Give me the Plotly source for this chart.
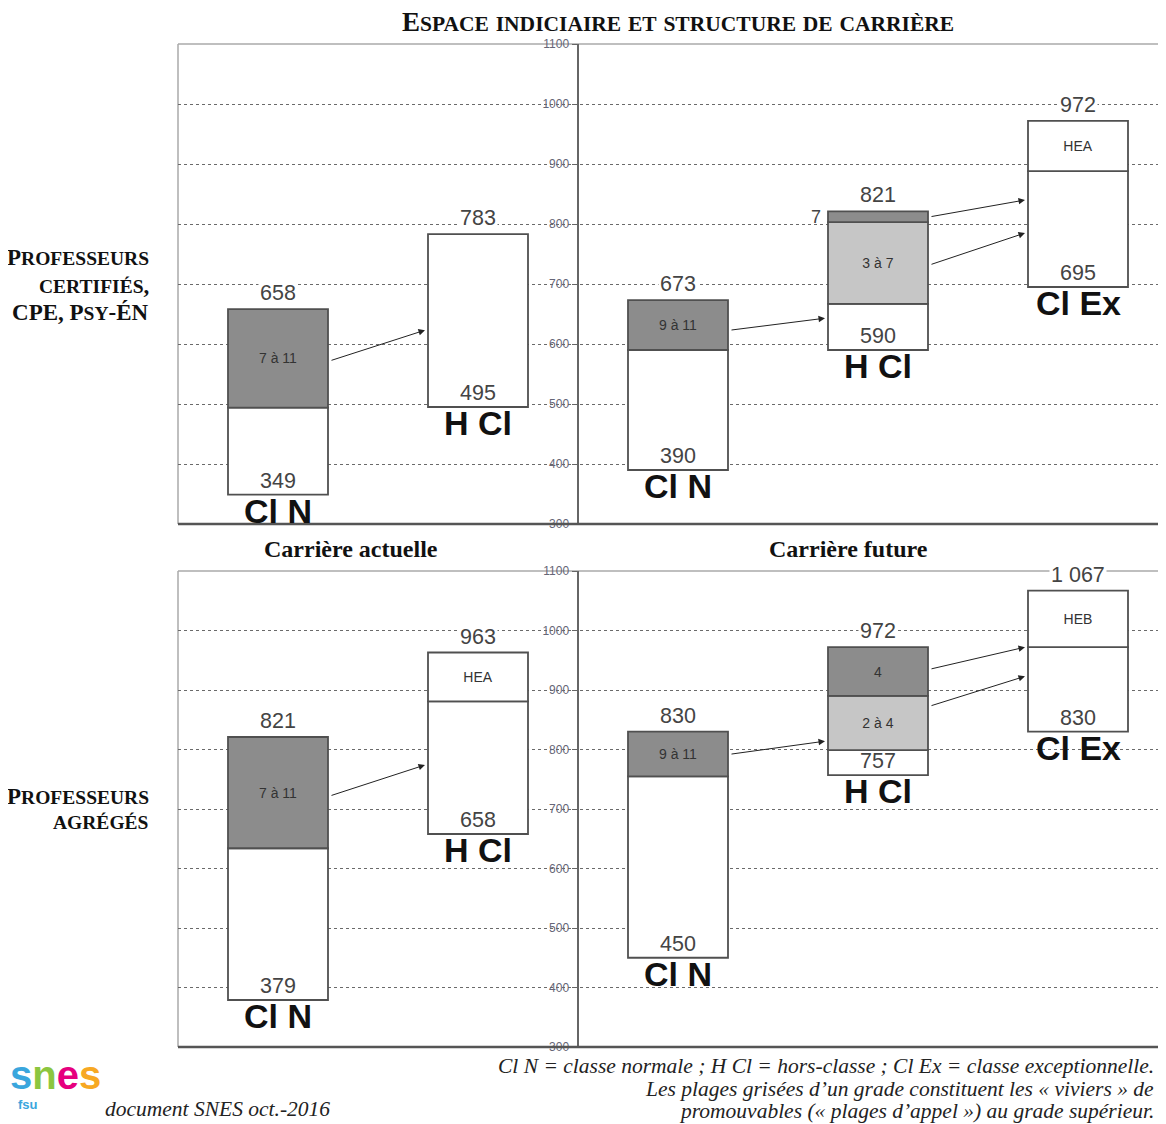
import plotly.graph_objects as go

# ---------------- data ----------------
grades = ["Cl N", "H Cl", "Cl N", "H Cl", "Cl Ex"]
slots = [0, 1, 2, 3, 4]

# Professeurs certifiés, CPE, Psy-ÉN
cert_min = [349, 495, 390, 590, 695]
cert_max = [658, 783, 673, 821, 972]
cert_seg_slot = [0, 0, 1, 2, 2, 3, 3, 3, 4, 4]
cert_seg_lo = [349, 494, 495, 390, 590, 590, 667, 803, 695, 888]
cert_seg_hi = [494, 658, 783, 590, 673, 667, 803, 821, 888, 972]
cert_seg_kind = ["blanc", "fonce", "blanc", "blanc", "fonce", "blanc", "clair", "fonce", "blanc", "blanc"]
cert_seg_text = ["", "7 à 11", "", "", "9 à 11", "", "3 à 7", "", "", "HEA"]
cert_note_slot, cert_note_val, cert_note_text = 3, 812, "7"
cert_arr_from = [(0, 572), (2, 623), (3, 812), (3, 732)]
cert_arr_to = [(1, 623), (3, 643), (4, 840), (4, 785)]

# Professeurs agrégés
agr_min = [379, 658, 450, 757, 830]
agr_max = [821, 963, 830, 972, 1067]
agr_seg_slot = [0, 0, 1, 1, 2, 2, 3, 3, 3, 4, 4]
agr_seg_lo = [379, 634, 658, 881, 450, 755, 757, 799, 890, 830, 972]
agr_seg_hi = [634, 821, 881, 963, 755, 830, 799, 890, 972, 972, 1067]
agr_seg_kind = ["blanc", "fonce", "blanc", "blanc", "blanc", "fonce", "blanc", "clair", "fonce", "blanc", "blanc"]
agr_seg_text = ["", "7 à 11", "", "HEA", "", "9 à 11", "", "2 à 4", "4", "", "HEB"]
agr_arr_from = [(0, 722), (2, 792), (3, 935), (3, 873)]
agr_arr_to = [(1, 774), (3, 814), (4, 972), (4, 923)]

y_ticks = [300, 400, 500, 600, 700, 800, 900, 1000, 1100]

# ---------------- style ----------------
FILL = {"blanc": "#ffffff", "fonce": "#8c8c8c", "clair": "#c6c6c6"}
SERIF = "Liberation Serif"
SANS = "Liberation Sans"
OFF = 8                      # page body margin
W, H = 1166 - OFF, 1124 - OFF


def px(x):
    return (x - OFF) / W


def py(y):
    return 1 - (y - OFF) / H


def sc(text, big, small):
    """small caps: capitals at size big, lower case letters as capitals at size small"""
    out = []
    for ch in text:
        if ch.islower():
            out.append(f"<span style='font-size:{small}px'>{ch.upper()}</span>")
        else:
            out.append(f"<span style='font-size:{big}px'>{ch}</span>")
    return "".join(out)


fig = go.Figure()


def fmt(v):
    return f"{v:,}".replace(",", " ")


def panel(suffix, seg_slot, seg_lo, seg_hi, seg_kind, seg_text, vmin, vmax, arr_from, arr_to):
    xa = "x" + suffix
    ya = "y" + suffix
    fig.add_trace(go.Bar(
        x=seg_slot,
        y=[h - l for l, h in zip(seg_lo, seg_hi)],
        base=seg_lo,
        width=0.5,
        marker=dict(color=[FILL[k] for k in seg_kind], line=dict(color="#505050", width=1.8)),
        text=seg_text,
        textposition="inside",
        insidetextanchor="middle",
        textangle=0,
        textfont=dict(family=SANS, size=14, color="#333333"),
        cliponaxis=False,
        xaxis=xa, yaxis=ya,
        showlegend=False,
        hoverinfo="skip",
    ))
    for s, lo, hi, g in zip(slots, vmin, vmax, grades):
        fig.add_annotation(x=s, y=hi, xref=xa, yref=ya, text=fmt(hi), showarrow=False,
                           xanchor="center", yanchor="bottom", yshift=2, bgcolor="white",
                           borderpad=1, font=dict(family=SANS, size=21.5, color="#444444"))
        fig.add_annotation(x=s, y=lo, xref=xa, yref=ya, text=fmt(lo), showarrow=False,
                           xanchor="center", yanchor="bottom", yshift=0,
                           font=dict(family=SANS, size=21.5, color="#444444"))
        fig.add_annotation(x=s, y=lo, xref=xa, yref=ya, text="<b>" + g + "</b>", showarrow=False,
                           xanchor="center", yanchor="top", yshift=5,
                           font=dict(family=SANS, size=34, color="#111111"))
    for (fs, fv), (ts, tv) in zip(arr_from, arr_to):
        fig.add_annotation(x=ts - 0.265, y=tv, ax=fs + 0.26, ay=fv, xref=xa, yref=ya,
                           axref=xa, ayref=ya, text="", showarrow=True, arrowhead=2,
                           arrowsize=1.3, arrowwidth=1, arrowcolor="#222222")


panel("", cert_seg_slot, cert_seg_lo, cert_seg_hi, cert_seg_kind, cert_seg_text,
      cert_min, cert_max, cert_arr_from, cert_arr_to)
panel("2", agr_seg_slot, agr_seg_lo, agr_seg_hi, agr_seg_kind, agr_seg_text,
      agr_min, agr_max, agr_arr_from, agr_arr_to)

fig.add_annotation(x=cert_note_slot - 0.25, y=cert_note_val, xref="x", yref="y",
                   text=cert_note_text, showarrow=False, xanchor="right", yanchor="middle",
                   xshift=-5, font=dict(family=SANS, size=18, color="#444444"))

xrange = [-0.5, (1166 - 278) / 200]
xcommon = dict(range=xrange, domain=[px(178), 1], showgrid=False, zeroline=False,
               showticklabels=False, ticks="", fixedrange=True, automargin=False)
ycommon = dict(range=[300, 1100], tickvals=y_ticks, showgrid=True, gridcolor="#6a6a6a",
               griddash="3px,3px", gridwidth=1.2, zeroline=False, anchor="free",
               position=px(577.5), showline=True, linecolor="#666666", linewidth=2,
               ticks="outside", ticklen=5, tickcolor="#666666", automargin=False,
               tickfont=dict(family=SANS, size=12, color="#667"))

fig.update_layout(
    width=W, height=H,
    margin=dict(l=0, r=0, t=0, b=0, pad=0, autoexpand=False),
    paper_bgcolor="white", plot_bgcolor="white",
    barmode="overlay",
    xaxis=dict(**xcommon, anchor="y"),
    yaxis=dict(**ycommon, domain=[py(524), py(44)]),
    xaxis2=dict(**xcommon, anchor="y2"),
    yaxis2=dict(**ycommon, domain=[py(1047), py(571)]),
)

# panel frames
for xr, yr in (("x domain", "y domain"), ("x2 domain", "y2 domain")):
    fig.add_shape(type="line", xref=xr, yref=yr, x0=0, x1=1, y0=1, y1=1,
                  line=dict(color="#aaaaaa", width=1.5), layer="below")
    fig.add_shape(type="line", xref=xr, yref=yr, x0=0, x1=0, y0=0, y1=1,
                  line=dict(color="#aaaaaa", width=1.5), layer="below")
    fig.add_shape(type="line", xref=xr, yref=yr, x0=0, x1=1, y0=0, y1=0,
                  line=dict(color="#555555", width=2.5), layer="above")


def txt(x, y, text, size, xanchor="center", family=SERIF, color="#111111"):
    fig.add_annotation(x=px(x), y=py(y), xref="paper", yref="paper", text=text,
                       showarrow=False, xanchor=xanchor, yanchor="middle",
                       font=dict(family=family, size=size, color=color))


# titles and labels
txt(678, 22, "<b>" + sc("Espace indiciaire et structure de carrière", 27, 21.5) + "</b>", 21)
txt(351, 549, "<b>Carrière actuelle</b>", 24)
txt(848, 549, "<b>Carrière future</b>", 24)

txt(151, 258, "<b>" + sc("Professeurs", 23, 19.5) + "</b>", 19, xanchor="right")
txt(151, 285, "<b>" + sc("certifiés,", 23, 19.5) + "</b>", 19, xanchor="right")
txt(151, 312, "<b>" + sc("CPE, Psy-ÉN", 23, 19.5) + "</b>", 19, xanchor="right")
txt(151, 796, "<b>" + sc("Professeurs", 23, 19.5) + "</b>", 19, xanchor="right")
txt(151, 822, "<b>" + sc("agrégés", 23, 19.5) + "</b>", 19, xanchor="right")

txt(1156, 1066, "<i>Cl N = classe normale ; H Cl = hors-classe ; Cl Ex = classe exceptionnelle.</i>",
    21.5, xanchor="right", color="#222222")
txt(1156, 1089, "<i>Les plages grisées d’un grade constituent les « viviers » de</i>",
    21.5, xanchor="right", color="#222222")
txt(1156, 1111, "<i>promouvables (« plages d’appel ») au grade supérieur.</i>",
    21.5, xanchor="right", color="#222222")
txt(103, 1109, "<i>document SNES oct.-2016</i>", 21.5, xanchor="left", color="#222222")

# logo (text)
txt(0 + OFF, 1075,
    ("<b><span style='color:#3aa6dd'>s</span><span style='color:#8cc63f'>n</span>"
     "<span style='color:#e6007e'>e</span><span style='color:#f7a823'>s</span></b>"),
    40, xanchor="left", family=SANS)
txt(16, 1104, "<b>fsu</b>", 13, xanchor="left", family=SANS, color="#3aa6dd")

fig.write_html("out.html")
